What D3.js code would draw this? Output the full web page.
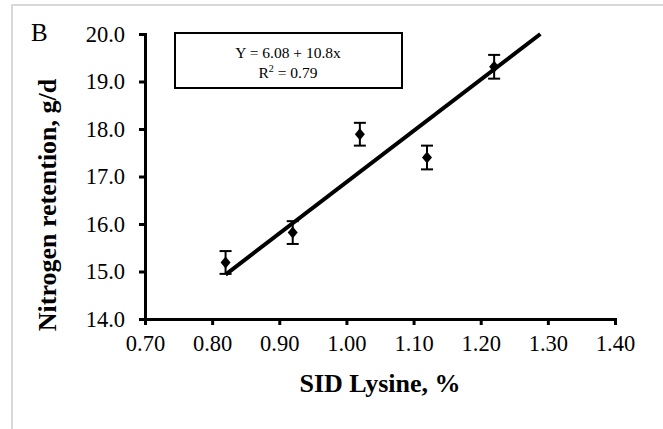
<!DOCTYPE html>
<html><head><meta charset="utf-8">
<script src="https://cdn.jsdelivr.net/npm/d3@7"></script>
<style>body{margin:0;background:#fff;}svg{display:block;} text{font-family:"Liberation Serif","Times New Roman",serif !important;}</style>
</head><body>
<svg id="c" width="663" height="429"></svg>
<script>
const lysine = [0.82, 0.92, 1.02, 1.12, 1.22];
const nRetention = [15.19, 15.82, 17.89, 17.40, 19.31];
const stdErr = [0.24, 0.24, 0.24, 0.25, 0.25];
const xTicks = [0.70, 0.80, 0.90, 1.00, 1.10, 1.20, 1.30, 1.40];
const yTicks = [14, 15, 16, 17, 18, 19, 20];
const intercept = 6.08, slope = 10.8;
const eqText = "Y = 6.08 + 10.8x";
const r2Text = "0.79";

const svg = d3.select("#c");
svg.append("rect").attr("x", 12).attr("y", 5).attr("width", 700).attr("height", 500)
  .attr("fill", "none").attr("stroke", "#d9d9d9").attr("stroke-width", 2);

const x = d3.scaleLinear().domain([0.70, 1.40]).range([145, 615]);
const y = d3.scaleLinear().domain([14, 20]).range([319, 34]);

const xAxis = svg.append("g").attr("transform", "translate(0,319)")
  .call(d3.axisBottom(x).tickValues(xTicks).tickFormat(d3.format(".2f")).tickSizeInner(6).tickSizeOuter(6).tickPadding(10));
const yAxis = svg.append("g").attr("transform", "translate(145,0)")
  .call(d3.axisLeft(y).tickValues(yTicks).tickFormat(d3.format(".1f")).tickSizeInner(6).tickSizeOuter(6).tickPadding(14));
[xAxis, yAxis].forEach(g => {
  g.attr("font-family", null);
  g.selectAll("path").attr("stroke", "#000").attr("stroke-width", 3);
  g.selectAll("line").attr("stroke", "#000").attr("stroke-width", 3);
  g.selectAll("text").attr("font-size", 22.5).attr("fill", "#000");
});

const x1 = lysine[0];
const x2 = (20 - intercept) / slope;
svg.append("line")
  .attr("x1", x(x1)).attr("y1", y(intercept + slope * x1))
  .attr("x2", x(x2)).attr("y2", y(intercept + slope * x2))
  .attr("stroke", "#000").attr("stroke-width", 4);

const eb = svg.append("g").attr("stroke", "#000").attr("stroke-width", 2);
lysine.forEach((lx, i) => {
  const cx = x(lx), hi = y(nRetention[i] + stdErr[i]), lo = y(nRetention[i] - stdErr[i]);
  eb.append("line").attr("x1", cx).attr("x2", cx).attr("y1", hi).attr("y2", lo);
  eb.append("line").attr("x1", cx - 6).attr("x2", cx + 6).attr("y1", hi).attr("y2", hi);
  eb.append("line").attr("x1", cx - 6).attr("x2", cx + 6).attr("y1", lo).attr("y2", lo);
});
svg.append("g").selectAll("path").data(lysine).join("path")
  .attr("transform", (d, i) => `translate(${x(d)},${y(nRetention[i])})`)
  .attr("d", "M0,-6L5,0L0,6L-5,0Z").attr("fill", "#000");

svg.append("rect").attr("x", 175).attr("y", 33).attr("width", 227).attr("height", 55)
  .attr("fill", "#fff").attr("stroke", "#000").attr("stroke-width", 2);
svg.append("text").attr("x", 288).attr("y", 58).attr("text-anchor", "middle")
  .attr("font-size", 15.5).text(eqText);
const r2 = svg.append("text").attr("x", 288).attr("y", 78).attr("text-anchor", "middle").attr("font-size", 15.5);
r2.append("tspan").text("R");
r2.append("tspan").attr("font-size", 10).attr("dy", -6).text("2");
r2.append("tspan").attr("dy", 6).text(" = " + r2Text);

svg.append("text").attr("x", 31).attr("y", 41).attr("font-size", 25).text("B");

svg.append("text").attr("x", 380).attr("y", 392).attr("text-anchor", "middle")
  .attr("font-size", 26).attr("font-weight", "bold").text("SID Lysine, %");
svg.append("text").attr("transform", "translate(56,205) rotate(-90)").attr("text-anchor", "middle")
  .attr("font-size", 26).attr("font-weight", "bold").text("Nitrogen retention, g/d");
</script>
</body></html>
